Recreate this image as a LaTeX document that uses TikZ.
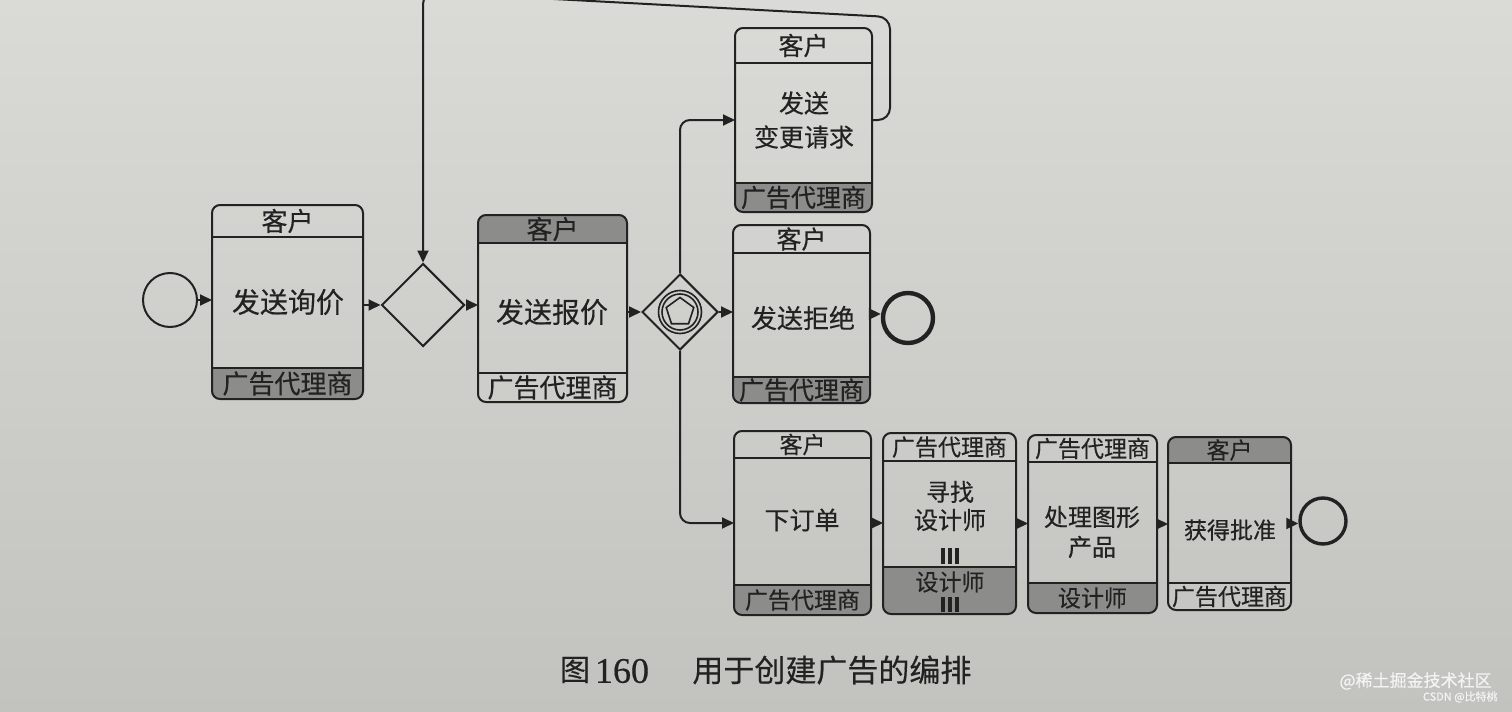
\documentclass[tikz,border=0pt]{standalone}
\usepackage{fontspec}
\setmainfont{Liberation Serif}
\newfontfamily\cjk[FakeBold=0.35]{Noto Sans CJK SC}
\newfontfamily\numfont[FakeBold=0.5]{Liberation Serif}
\usetikzlibrary{arrows.meta,shapes.geometric,calc}
\definecolor{paperA}{HTML}{DADAD6}
\definecolor{paperB}{HTML}{C2C2BE}
\definecolor{inkc}{HTML}{222222}
\definecolor{bandc}{HTML}{8C8C8A}
\definecolor{wmc}{HTML}{F4F4F4}
\newlength\toph
\newlength\both
\def\bsz{12.5}
% #1 name, #2 cx, #3 cy, #4 width, #5 height, #6 top text, #7 top fill style, #8 bottom text, #9 bottom fill style
\newcommand\chor[9]{%
  \node[chorbox, minimum width=#4, minimum height=#5] (#1) at (#2,#3) {};
  \begin{scope}
    \clip[rounded corners=4pt] (#1.north west) rectangle (#1.south east);
    \fill[#7] (#1.north west) rectangle ([yshift=-\toph]#1.north east);
    \fill[#9] (#1.south west) rectangle ([yshift=\both]#1.south east);
  \end{scope}
  \draw[ink] ([yshift=-\toph]#1.north west) -- ([yshift=-\toph]#1.north east);
  \draw[ink] ([yshift=\both]#1.south west) -- ([yshift=\both]#1.south east);
  \draw[ink, rounded corners=4pt] (#1.north west) rectangle (#1.south east);
  \node[bandtxt] (#1-top) at ([yshift={-0.5\toph}]#1.north) {#6};
  \node[bandtxt] (#1-bot) at ([yshift={0.5\both}]#1.south) {#8};
}
\begin{document}
\begin{tikzpicture}[x=0.5pt,y=-0.5pt,
  ink/.style={draw=inkc, line width=1pt},
  chorbox/.style={rectangle, inner sep=0pt, outer sep=0pt},
  gb/.style={fill=bandc}, wb/.style={fill=none},
  bandtxt/.style={inner sep=0pt, text=inkc, font=\cjk\fontsize{\bsz}{\bsz}\selectfont},
  bodytxt/.style={inner sep=0pt, text=inkc, align=center},
  arr/.style={draw=inkc, line width=1pt, -{Triangle[length=6pt,width=5.5pt]}},
  gate/.style={diamond, aspect=1, draw=inkc, line width=1pt, inner sep=0pt},
  ev/.style={circle, draw=inkc, inner sep=0pt},
]
\shade[top color=paperA, bottom color=paperB] (0,0) rectangle (1512,712);
\useasboundingbox (0,0) rectangle (1512,712);

% events and gateways
\node[ev, line width=1pt, minimum size=27pt] (s1) at (170,300) {};
\node[gate, minimum size=41.5pt] (gw1) at (423,305) {};
\node[gate, minimum size=38pt] (gw2) at (680,312) {};
\node[ev, line width=0.8pt, minimum size=21.5pt] (gw2o) at (gw2) {};
\node[ev, line width=0.8pt, minimum size=18pt] (gw2i) at (gw2) {};
\node[regular polygon, regular polygon sides=5, draw=inkc, line width=0.8pt, inner sep=0pt, minimum size=14.5pt] (gw2p) at (gw2) {};
\node[ev, line width=2.2pt, minimum size=25pt] (e1) at (908,318) {};
\node[ev, line width=1.7pt, minimum size=23pt] (e2) at (1323,521) {};

% choreography tasks (upper)
\def\bsz{13}
\setlength\toph{16pt}\setlength\both{15.5pt}
\chor{t1}{287.5}{302}{75.5pt}{97pt}{客户}{wb}{广告代理商}{gb}
\setlength\toph{14pt}\setlength\both{14.5pt}
\chor{t2}{552.5}{308.5}{74.5pt}{93.5pt}{客户}{gb}{广告代理商}{wb}
\def\bsz{12.5}
\setlength\toph{17.5pt}\setlength\both{14.5pt}
\chor{t3}{803.5}{120}{68.5pt}{92pt}{客户}{wb}{广告代理商}{gb}
\setlength\toph{14pt}\setlength\both{13pt}
\chor{t4}{801.5}{314}{68.5pt}{89pt}{客户}{wb}{广告代理商}{gb}

% choreography tasks (lower)
\def\bsz{11.5}
\setlength\toph{13.5pt}\setlength\both{15pt}
\chor{t5}{802.5}{523}{68.5pt}{92pt}{客户}{wb}{广告代理商}{gb}
\setlength\toph{14pt}\setlength\both{23.5pt}
\chor{t6}{949.5}{523.5}{66.5pt}{90.5pt}{广告代理商}{wb}{}{gb}
\setlength\toph{13.5pt}\setlength\both{15pt}
\chor{t7}{1092.5}{524}{64.5pt}{89pt}{广告代理商}{wb}{设计师}{gb}
\setlength\toph{13pt}\setlength\both{13.5pt}
\chor{t8}{1229.5}{523.5}{61.5pt}{86.5pt}{客户}{gb}{广告代理商}{wb}

% body labels
\node[bodytxt, font=\cjk\fontsize{14}{16}\selectfont] (t1-lbl) at (288,302) {发送询价};
\node[bodytxt, font=\cjk\fontsize{14}{16}\selectfont] (t2-lbl) at (552,312) {发送报价};
\node[bodytxt, font=\cjk\fontsize{12.5}{17}\selectfont] (t3-lbl) at (804,120) {发送\\变更请求};
\node[bodytxt, font=\cjk\fontsize{13}{16}\selectfont] (t4-lbl) at (803,318) {发送拒绝};
\node[bodytxt, font=\cjk\fontsize{12.5}{15}\selectfont] (t5-lbl) at (802,520) {下订单};
\node[bodytxt, font=\cjk\fontsize{12}{14}\selectfont] (t6-lbl) at (950,506) {寻找\\设计师};
\node[bodytxt, font=\cjk\fontsize{12}{15}\selectfont] (t7-lbl) at (1092,532) {处理图形\\产品};
\node[bodytxt, font=\cjk\fontsize{11.5}{14}\selectfont] (t8-lbl) at (1230,530) {获得批准};
\node[bandtxt] (t6-bot2) at (950,582) {设计师};

% multi-instance markers
\foreach \mx in {943,950,957}{
  \draw[inkc, line width=1.6pt] (\mx,548) -- (\mx,564);
  \draw[inkc, line width=1.6pt] (\mx,597) -- (\mx,612);
}

% connectors
\draw[arr] (s1.east) -- (s1.east -| t1.west);
\draw[arr] (t1.east |- gw1) -- (gw1.west);
\draw[arr] (gw1.east) -- (gw1.east -| t2.west);
\draw[arr] (t2.east |- gw2) -- (gw2.west);
\draw[arr, rounded corners=5pt] (gw2.north) |- (t3.west);
\draw[arr] (gw2.east) -- (gw2.east -| t4.west);
\draw[arr, rounded corners=5pt] (gw2.south) |- (t5.west);
\draw[arr] (t4.east) -- (t4.east -| e1.west);
\coordinate (lpA) at (890,17);
\coordinate (lpB) at (423,-8);
\draw[arr, rounded corners=6pt] (t3.east) -- (t3.east -| lpA) -- (lpA) -- (lpB) -- (gw1.north);
\draw[arr] (t5.east) -- (t5.east -| t6.west);
\draw[arr] (t6.east) -- (t6.east -| t7.west);
\draw[arr] (t7.east) -- (t7.east -| t8.west);
\draw[arr] (t8.east) -- (t8.east -| e2.west);

% caption
\node[inner sep=0pt, text=inkc, font=\cjk\fontsize{15}{16}\selectfont] (cap1) at (575,670) {图};
\node[inner sep=0pt, text=inkc, font=\numfont\fontsize{18}{18}\selectfont] (cap2) at (622,671) {160};
\node[inner sep=0pt, text=inkc, font=\cjk\fontsize{15.5}{16}\selectfont, anchor=west] (cap3) at (692,670) {用于创建广告的编排};

% watermark
\node[inner sep=0pt, text=wmc, font=\cjk\fontsize{8.5}{9}\selectfont, anchor=east] (wm1) at (1492,681) {@稀土掘金技术社区};
\node[inner sep=0pt, text=wmc, font=\cjk\fontsize{5.5}{6}\selectfont, anchor=east] (wm2) at (1498,697) {CSDN @比特桃};
\end{tikzpicture}
\end{document}
